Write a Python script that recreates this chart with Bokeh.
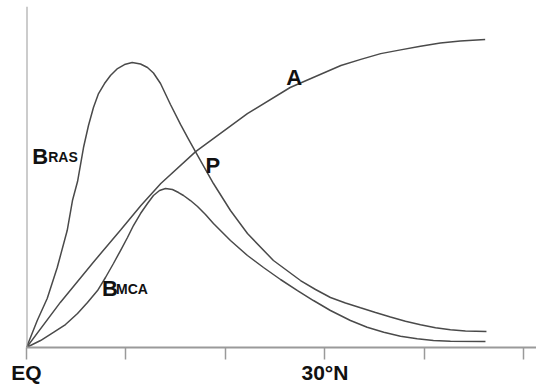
from bokeh.plotting import figure
from bokeh.models import Range1d, FixedTicker, Span
from bokeh.core.properties import value
from bokeh.embed import file_html
from bokeh.resources import INLINE

# ---- data (latitude in degrees, relative value) ----
lat_a = [0, 3.4, 6.7, 9.5, 11.5, 13.5, 17.0, 22.2, 26.5, 31.6, 33.6, 35.6, 37.6, 39.6,
         41.6, 43.6, 46.1]
val_a = [0, 13.3, 25.1, 34.8, 41.9, 48.4, 57.8, 69.0, 76.7, 83.2, 85.0, 86.7, 87.8, 88.9,
         89.8, 90.4, 90.9]

lat_ras = [0, 1.08, 2.08, 3.09, 4.09, 4.62, 5.13, 5.73, 6.23, 6.73, 7.24, 7.84, 8.44, 9.15,
           9.85, 10.62, 11.46, 12.16, 12.76, 13.47, 14.47, 15.48, 16.28, 16.98, 18.79,
           20.50, 22.21, 24.82, 27.54, 29.05, 30.55, 32.06, 33.57, 35.08, 36.58, 38.09,
           39.60, 41.11, 42.61, 44.12, 46.23]
val_ras = [0, 7.96, 14.45, 23.60, 34.51, 43.36, 48.97, 59.00, 65.49, 70.80, 74.93, 77.88,
           80.24, 82.30, 83.48, 84.07, 83.63, 82.60, 80.97, 77.88, 71.68, 65.80, 61.50,
           57.82, 48.38, 40.41, 33.63, 25.66, 19.76, 17.11, 14.75, 13.13, 11.71, 10.32,
           9.00, 7.73, 6.70, 5.84, 5.22, 4.87, 4.72]

lat_mca = [0, 1.41, 2.71, 3.92, 5.13, 6.13, 7.14, 7.94, 8.74, 9.45, 10.15, 10.75, 11.46,
           12.16, 12.76, 13.37, 13.97, 14.67, 15.28, 15.78, 16.48, 17.19, 17.99, 18.79,
           20.50, 22.21, 23.82, 25.53, 27.24, 28.84, 30.55, 32.56, 34.24, 35.91, 37.59,
           39.27, 40.90, 42.61, 46.13]
val_mca = [0, 2.06, 4.43, 6.78, 10.03, 13.27, 16.81, 20.65, 24.78, 28.61, 32.45, 35.99,
           39.53, 42.48, 44.84, 46.31, 46.90, 46.61, 45.72, 44.84, 43.36, 41.59, 39.23,
           36.58, 31.56, 27.14, 23.60, 20.06, 16.81, 13.86, 10.91, 7.96, 5.99, 4.51, 3.33,
           2.57, 2.06, 1.86, 1.77]

tick_positions = [0, 10, 20, 30, 40, 50]
tick_labels = ["EQ", "", "", "30°N", "", ""]

# curve labels: main letter + subscript
main_text = ["B", "B", "A", "P"]
main_x = [0.58, 7.58, 26.1, 18.0]
main_y = [56.3, 17.3, 79.7, 53.7]
sub_text = ["RAS", "MCA"]
sub_x = [2.18, 9.0]
sub_y = [56.3, 17.3]

LINE = "#4a4a4a"
AXIS = "#9a9a9a"
FONT = "Liberation Sans"

p = figure(width=536, height=387, x_range=Range1d(0, 51.26), y_range=Range1d(0, 100.6),
           output_backend="svg", toolbar_location=None, y_axis_location=None,
           min_border_left=26, min_border_right=0, min_border_top=6, min_border_bottom=40)
p.outline_line_color = None
p.xgrid.visible = False
p.ygrid.visible = False
p.background_fill_color = "white"
p.border_fill_color = "white"

xa = p.xaxis[0]
xa.ticker = FixedTicker(ticks=tick_positions)
xa.major_label_overrides = {t: l for t, l in zip(tick_positions, tick_labels)}
xa.axis_line_color = AXIS
xa.axis_line_width = 2
xa.major_tick_line_color = AXIS
xa.major_tick_line_width = 1.5
xa.major_tick_in = 0
xa.major_tick_out = 12
xa.minor_tick_line_color = None
xa.major_label_standoff = 1
xa.major_label_text_font = FONT
xa.major_label_text_font_style = "bold"
xa.major_label_text_font_size = "21px"
xa.major_label_text_color = "#111111"

p.add_layout(Span(location=0, dimension="height", line_color=AXIS, line_width=2))

for xs, ys in ((lat_a, val_a), (lat_ras, val_ras), (lat_mca, val_mca)):
    p.line(xs, ys, line_color=LINE, line_width=1.5)

p.text(x=main_x, y=main_y, text=main_text, text_font=value(FONT), text_font_style="bold",
       text_font_size="22px", text_baseline="alphabetic", text_align="left", text_color="#111111")
p.text(x=sub_x, y=sub_y, text=sub_text, text_font=value(FONT), text_font_style="bold",
       text_font_size="14px", text_baseline="alphabetic", text_align="left", text_color="#111111")

open("out.html", "w").write(file_html(p, INLINE))
